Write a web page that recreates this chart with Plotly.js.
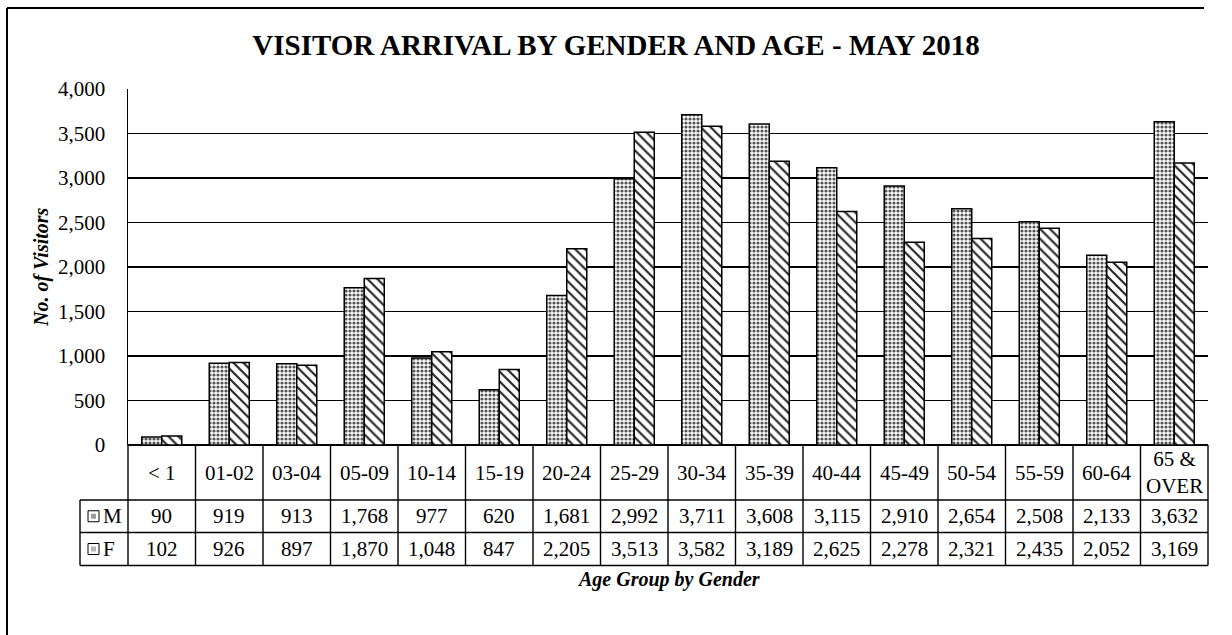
<!DOCTYPE html>
<html>
<head>
<meta charset="utf-8">
<script src="https://cdn.plot.ly/plotly-3.0.1.min.js"></script>
<style>html,body{margin:0;padding:0;background:#fff;}#chart{width:1232px;height:635px;}</style>
</head>
<body>
<div id="chart"></div>
<script>
// ---- data ----
const categories = ['< 1','01-02','03-04','05-09','10-14','15-19','20-24','25-29','30-34','35-39','40-44','45-49','50-54','55-59','60-64','65 & OVER'];
const maleValues = [90,919,913,1768,977,620,1681,2992,3711,3608,3115,2910,2654,2508,2133,3632];
const femaleValues = [102,926,897,1870,1048,847,2205,3513,3582,3189,2625,2278,2321,2435,2052,3169];
const seriesNames = ['M','F'];
const yTickValues = [0,500,1000,1500,2000,2500,3000,3500,4000];
const titleText = 'VISITOR ARRIVAL BY GENDER AND AGE - MAY 2018';
const yTitleText = 'No. of Visitors';
const xTitleText = 'Age Group by Gender';

// ---- layout helpers (pixel -> paper) ----
const W = 1232, H = 635;
const mL = 128, mR = 24, mT = 89, mB = 190;
const plotW = W - mL - mR, plotH = H - mT - mB;
const px = p => (p - mL) / plotW;
const py = p => (H - mB - p) / plotH;
const FONT = 'Liberation Serif, Times New Roman, serif';
const fmt = v => v.toLocaleString('en-US');

const traces = [
  {
    type: 'bar', name: seriesNames[0], x: categories, y: maleValues,
    marker: {color: '#ffffff', line: {color: '#000', width: 1.5},
      pattern: {shape: '.', size: 4, solidity: 0.5, fgcolor: '#555', bgcolor: '#fff', fillmode: 'replace'}},
    hoverinfo: 'x+y'
  },
  {
    type: 'bar', name: seriesNames[1], x: categories, y: femaleValues,
    marker: {color: '#ffffff', line: {color: '#000', width: 1.5},
      pattern: {shape: '\\', size: 7, solidity: 0.3, fgcolor: '#222', bgcolor: '#fff', fillmode: 'replace'}},
    hoverinfo: 'x+y'
  }
];

// ---- table rows (pixel) ----
const rowTop = 445, rowHead = 500, rowM = 532.5, rowF = 565.5;
const legLeft = 80;
const shapes = [];
const L = {color: '#000', width: 1.4};
function hline(x0, x1, y) { shapes.push({type:'line', xref:'paper', yref:'paper', x0:px(x0), x1:px(x1), y0:py(y), y1:py(y), line:L}); }
function vlinePaper(xp, y0, y1) { shapes.push({type:'line', xref:'paper', yref:'paper', x0:xp, x1:xp, y0:py(y0), y1:py(y1), line:L}); }

hline(legLeft, mL + plotW, rowHead);
hline(legLeft, mL + plotW, rowM);
hline(legLeft, mL + plotW, rowF);
for (let i = 0; i <= categories.length; i++) vlinePaper(i / categories.length, rowTop, rowF);
vlinePaper(px(legLeft), rowHead, rowF);

// legend icons
[[rowHead, rowM, '#9a9a9a'], [rowM, rowF, '#b5b5b5']].forEach(([a, b, c]) => {
  const cy = (a + b) / 2;
  shapes.push({type:'rect', xref:'paper', yref:'paper', x0:px(88), x1:px(99), y0:py(cy+5.5), y1:py(cy-5.5), line:{color:'#000', width:1}, fillcolor:'#fff'});
  shapes.push({type:'rect', xref:'paper', yref:'paper', x0:px(91), x1:px(96), y0:py(cy+2.5), y1:py(cy-2.5), line:{width:0}, fillcolor:c});
});

// outer frame (left + top)
shapes.push({type:'line', xref:'paper', yref:'paper', x0:px(7), x1:px(7), y0:py(8), y1:py(H), line:{color:'#000', width:2}});
shapes.push({type:'line', xref:'paper', yref:'paper', x0:px(7), x1:px(1204), y0:py(8), y1:py(8), line:{color:'#000', width:2}});

const annotations = [];
const tFont = {family: FONT, size: 21, color: '#000'};
categories.forEach((c, i) => {
  annotations.push({xref:'x', yref:'paper', x:c, y:py((rowTop+rowHead)/2), text:c.replace(' & ', ' &<br>'), showarrow:false, font:tFont, xanchor:'center', yanchor:'middle'});
  annotations.push({xref:'x', yref:'paper', x:c, y:py((rowHead+rowM)/2), text:fmt(maleValues[i]), showarrow:false, font:tFont, xanchor:'center', yanchor:'middle'});
  annotations.push({xref:'x', yref:'paper', x:c, y:py((rowM+rowF)/2), text:fmt(femaleValues[i]), showarrow:false, font:tFont, xanchor:'center', yanchor:'middle'});
});
annotations.push({xref:'paper', yref:'paper', x:px(101), y:py((rowHead+rowM)/2), text:seriesNames[0], showarrow:false, font:tFont, xanchor:'left', yanchor:'middle'});
annotations.push({xref:'paper', yref:'paper', x:px(101), y:py((rowM+rowF)/2), text:seriesNames[1], showarrow:false, font:tFont, xanchor:'left', yanchor:'middle'});
// axis titles
annotations.push({xref:'paper', yref:'paper', x:px(41), y:0.5, text:'<b><i>'+yTitleText+'</i></b>', textangle:-90, showarrow:false, font:{family:FONT, size:20, color:'#000'}, xanchor:'center', yanchor:'middle'});
annotations.push({xref:'paper', yref:'paper', x:0.5, y:py(579), text:'<b><i>'+xTitleText+'</i></b>', showarrow:false, font:{family:FONT, size:20, color:'#000'}, xanchor:'center', yanchor:'middle'});

const layout = {
  width: W, height: H,
  margin: {l: mL, r: mR, t: mT, b: mB, pad: 0},
  paper_bgcolor: '#fff', plot_bgcolor: '#fff',
  font: {family: FONT, color: '#000'},
  title: {text: '<b>' + titleText + '</b>', x: 0.5, xref: 'container', y: 1 - 45 / H, yref: 'container', yanchor: 'middle', xanchor: 'center', font: {family: 'Liberation Serif', size: 29, color: '#000'}},
  showlegend: false,
  barmode: 'group', bargap: 0.407, bargroupgap: 0,
  xaxis: {type: 'category', showticklabels: false, ticks: '', showgrid: false, showline: false, zeroline: false, fixedrange: true},
  yaxis: {range: [0, 4000], tickvals: yTickValues, ticktext: yTickValues.map(fmt), showgrid: true, gridcolor: '#000', gridwidth: 1.4,
    showline: true, linecolor: '#000', linewidth: 1.5, zeroline: true, zerolinecolor: '#000', zerolinewidth: 1.5,
    ticks: '', ticklabelstandoff: 17, tickfont: {family: FONT, size: 21, color: '#000'}, fixedrange: true},
  shapes: shapes,
  annotations: annotations
};

Plotly.newPlot('chart', traces, layout, {displayModeBar: false, staticPlot: true});
</script>
</body>
</html>
